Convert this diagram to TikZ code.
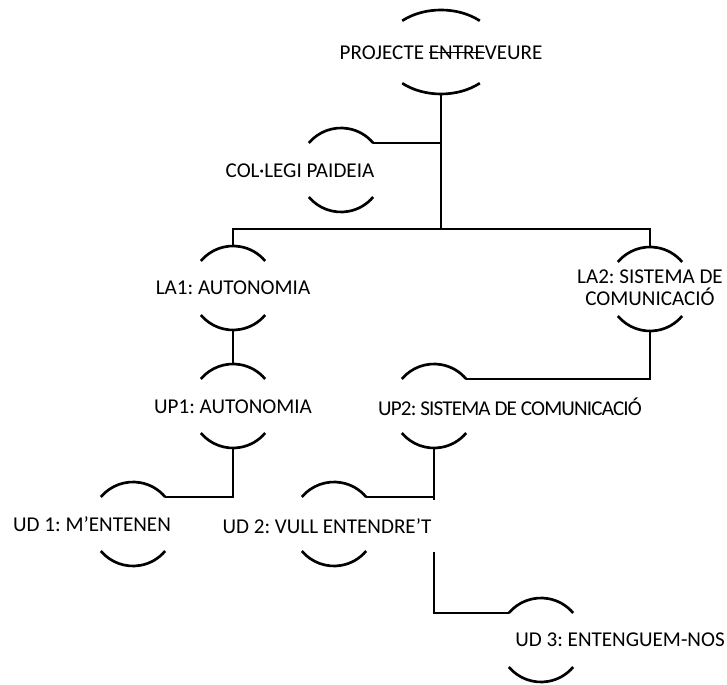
\documentclass[tikz,border=0pt]{standalone}
\usepackage{fontspec}
\setmainfont{Carlito}
\usepackage{tikz}
\usetikzlibrary{calc,shapes.geometric}
\frenchspacing
\newlength\crosslen
\newcommand\crossout[1]{\settowidth\crosslen{#1}\rlap{\rule[0.3em]{\crosslen}{1.3pt}}#1}
\definecolor{ink}{HTML}{000000}
\tikzset{
  link/.style={draw=ink, line width=2.1pt},
  rim/.style={draw=ink, line width=1.9pt},
  ring/.style={circle, minimum size=2.1cm, inner sep=0pt, outer sep=0pt},
  wide/.style={ellipse, minimum width=2.9cm, minimum height=2.1cm, inner sep=0pt, outer sep=0pt},
  lbl/.style={font=\fontsize{15}{15.5}\selectfont, text=ink, inner sep=2pt},
  tight/.style={font=\fontsize{15}{15.5}\selectfont\addfontfeature{LetterSpace=-4}},
  cover/.style={fill=white, inner xsep=4pt, minimum height=1.3cm}
}

\begin{document}
\begin{tikzpicture}[x=0.025cm, y=0.025cm]
  \useasboundingbox (0,0) rectangle (727,684);
  % ovals
  \node[wide] (proj) at (441,632) {};
  \node[ring] (col) at (341,514) {};
  \node[ring] (la1) at (233,396) {};
  \node[ring] (la2) at (650,395) {};
  \node[ring] (up1) at (233,278) {};
  \node[ring] (up2) at (434,278) {};
  \node[ring] (ud1) at (133,160) {};
  \node[ring] (ud2) at (334,160) {};
  \node[ring] (ud3) at (541,44) {};
  \coordinate (split) at (441,455);

  % connectors
  \draw[link] (proj.south) -- (split);
  \draw[link] (la1.north) -- (la1.north |- split) -| (la2.north);
  \draw[link] (col.40) -- (col.40 -| split);
  \draw[link] (la1.south) -- (up1.north);
  \draw[link] (la2.south) |- (up2.40);
  \draw[link] (up1.south) |- (ud1.40);
  \draw[link] (up2.south) |- (ud2.40);
  \draw[link] (up2.south) |- (ud3.140);

  % labels
  \node[lbl] (projtxt) at (441,631) {PROJECTE \crossout{ENTRE}VEURE};
  \node[lbl] (coltxt) at (300,513) {COL·LEGI PAIDEIA};
  \node[lbl] (la1txt) at (233,396) {LA1: AUTONOMIA};
  \node[lbl, align=center] (la2txt) at (650,396) {LA2: SISTEMA DE\\COMUNICACIÓ};
  \node[lbl] (up1txt) at (233,277) {UP1: AUTONOMIA};
  \node[lbl, tight] (up2txt) at (510,277) {UP2: SISTEMA DE COMUNICACIÓ};
  \node[lbl] (ud1txt) at (92,160) {UD 1: M’ENTENEN};
  \node[lbl, cover] (ud2txt) at (327,158) {UD 2: VULL ENTENDRE’T};
  \node[lbl] (ud3txt) at (620,44) {UD 3: ENTENGUEM-NOS};

  % rims
  \foreach \n/\a/\t in {proj/58/48, col/42/40, la1/42/40, la2/42/40, up1/42/40,
                        up2/42/40, ud1/42/40, ud2/42/40, ud3/42/40}
    \draw[rim] (\n.center) ++(180-\t:{\a} and 42)
                 arc[start angle=180-\t, end angle=\t, x radius=\a, y radius=42]
               (\n.center) ++(180+\t:{\a} and 42)
                 arc[start angle=180+\t, end angle=360-\t, x radius=\a, y radius=42];
\end{tikzpicture}
\end{document}
